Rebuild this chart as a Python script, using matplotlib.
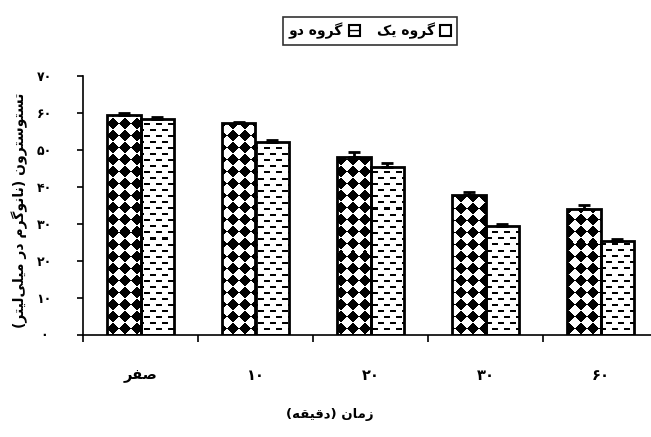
# Testosterone by time, two groups - grouped bar chart with patterned fills
import matplotlib
matplotlib.use("Agg")
import matplotlib.pyplot as plt
from matplotlib.patches import Patch
import numpy as np

# data
time_labels = ["صفر", "۱۰", "۲۰", "۳۰", "۶۰"]
group1 = [59.4, 57.2, 48.0, 37.9, 34.0]
group2 = [58.3, 52.2, 45.4, 29.4, 25.3]
group1_err = [0.5, 0.3, 1.5, 0.6, 1.0]
group2_err = [0.6, 0.5, 1.0, 0.5, 0.6]
ytick_values = [0, 10, 20, 30, 40, 50, 60, 70]
ytick_labels = ["۰", "۱۰", "۲۰", "۳۰", "۴۰", "۵۰", "۶۰", "۷۰"]
legend_labels = ["گروه یک", "گروه دو"]
xlabel = "زمان (دقیقه)"
ylabel = "تستوسترون (نانوگرم در میلی\u200cلیتر)"

# matplotlib does no arabic shaping, so pick presentation forms by hand
# (isolated, final, initial, medial)
FORMS = {
    "ا": "\uFE8D\uFE8E", "د": "\uFEA9\uFEAA", "ر": "\uFEAD\uFEAE",
    "ز": "\uFEAF\uFEB0", "و": "\uFEED\uFEEE",
    "ت": "\uFE95\uFE96\uFE97\uFE98", "س": "\uFEB1\uFEB2\uFEB3\uFEB4",
    "ص": "\uFEB9\uFEBA\uFEBB\uFEBC", "ف": "\uFED1\uFED2\uFED3\uFED4",
    "ق": "\uFED5\uFED6\uFED7\uFED8", "ل": "\uFEDD\uFEDE\uFEDF\uFEE0",
    "م": "\uFEE1\uFEE2\uFEE3\uFEE4", "ن": "\uFEE5\uFEE6\uFEE7\uFEE8",
    "ه": "\uFEE9\uFEEA\uFEEB\uFEEC", "ک": "\uFB8E\uFB8F\uFB90\uFB91",
    "گ": "\uFB92\uFB93\uFB94\uFB95", "ی": "\uFBFC\uFBFD\uFBFE\uFBFF",
}


def shape(text):
    # plain numbers stay as they are
    if not any(ch in FORMS for ch in text):
        return text
    out = []
    for i, ch in enumerate(text):
        if ch not in FORMS:
            if ch != "\u200c":
                out.append(ch)
            continue
        prev = text[i - 1] if i > 0 else ""
        nxt = text[i + 1] if i + 1 < len(text) else ""
        join_prev = prev in FORMS and len(FORMS[prev]) == 4
        join_next = nxt in FORMS and len(FORMS[ch]) == 4
        f = FORMS[ch]
        if join_prev and join_next:
            out.append(f[3])
        elif join_prev:
            out.append(f[1])
        elif join_next:
            out.append(f[2])
        else:
            out.append(f[0])
    vis = "".join(reversed(out))
    return vis.translate(str.maketrans("()", ")("))


plt.rcParams["font.family"] = ["DejaVu Sans"]
plt.rcParams["font.weight"] = "bold"

fig = plt.figure(figsize=(6.51, 4.37), dpi=100)
W, H = 651, 437
ax_left, ax_right, ax_top, ax_bot = 83, 658, 76, 334.5
ax = fig.add_axes([ax_left / W, (H - ax_bot) / H,
                   (ax_right - ax_left) / W, (ax_bot - ax_top) / H])

# fill patterns in pixel space of the axes
pw, ph = int(ax_right - ax_left), int(ax_bot - ax_top)
yy, xx = np.indices((ph, pw))
d = 12
diamonds = ((np.floor((xx + yy) / d) + np.floor((xx - yy) / d)) % 2 == 0)
diamond_img = np.where(diamonds, 0.0, 1.0)
row = yy // 6
dashes = (yy % 6 < 2) & (((xx + (row % 2) * 6) % 12) < 6)
dash_img = np.where(dashes, 0.0, 1.0)

x = np.arange(len(time_labels))
w = 0.29
ext = (-0.5, 4.5, 0, 70)

for vals, errs, off, img in [(group1, group1_err, -w / 2, diamond_img),
                             (group2, group2_err, w / 2, dash_img)]:
    bars = ax.bar(x + off, vals, w, facecolor="white", edgecolor="black",
                  linewidth=2, zorder=3)
    for b in bars:
        im = ax.imshow(img, extent=ext, cmap="gray", vmin=0, vmax=1,
                       interpolation="nearest", aspect="auto", zorder=2.5)
        im.set_clip_path(b)
        b.set_facecolor("none")
    ax.errorbar(x + off, vals, yerr=[np.zeros(len(errs)), errs], fmt="none",
                ecolor="black", elinewidth=2, capsize=4.5, capthick=2, zorder=4)

ax.set_xlim(-0.5, 4.5)
ax.set_ylim(0, 70)

for s in ["top", "right"]:
    ax.spines[s].set_visible(False)
for s in ["left", "bottom"]:
    ax.spines[s].set_linewidth(1.2)

ax.set_yticks(ytick_values)
ax.set_yticklabels(ytick_labels, fontsize=9, fontweight="bold")
ax.tick_params(axis="y", direction="out", length=4, width=1.2, pad=24)
for lab in ax.get_yticklabels():
    lab.set_horizontalalignment("center")

ax.set_xticks(np.arange(-0.5, 4.6, 1.0))
ax.set_xticklabels([])
ax.tick_params(axis="x", which="major", direction="out", length=5, width=1.2)
ax.set_xticks(x, minor=True)
ax.set_xticklabels([shape(t) for t in time_labels], minor=True,
                   fontsize=10.5, fontweight="bold")
ax.tick_params(axis="x", which="minor", length=0, pad=24)

ax.set_xlabel(shape(xlabel), fontsize=9.5, fontweight="bold")
ax.xaxis.set_label_coords(0.43, -0.285)
ax.set_ylabel(shape(ylabel), fontsize=10, fontweight="bold")
ax.yaxis.set_label_coords(-0.096, 0.48)

handles = [Patch(facecolor="white", edgecolor="black", hatch="---", linewidth=1.5),
           Patch(facecolor="white", edgecolor="black", linewidth=1.5)]
leg = fig.legend(handles, [shape(legend_labels[1]), shape(legend_labels[0])],
                 ncol=2, loc="center", bbox_to_anchor=(370 / W, 1 - 31 / H),
                 markerfirst=False, frameon=True, fancybox=False,
                 edgecolor="black", handlelength=0.8, handleheight=0.8,
                 handletextpad=0.4, columnspacing=1.2, borderpad=0.45,
                 prop={"size": 10, "weight": "bold"})
leg.get_frame().set_linewidth(1.2)

fig.savefig("out.png", dpi=100)
